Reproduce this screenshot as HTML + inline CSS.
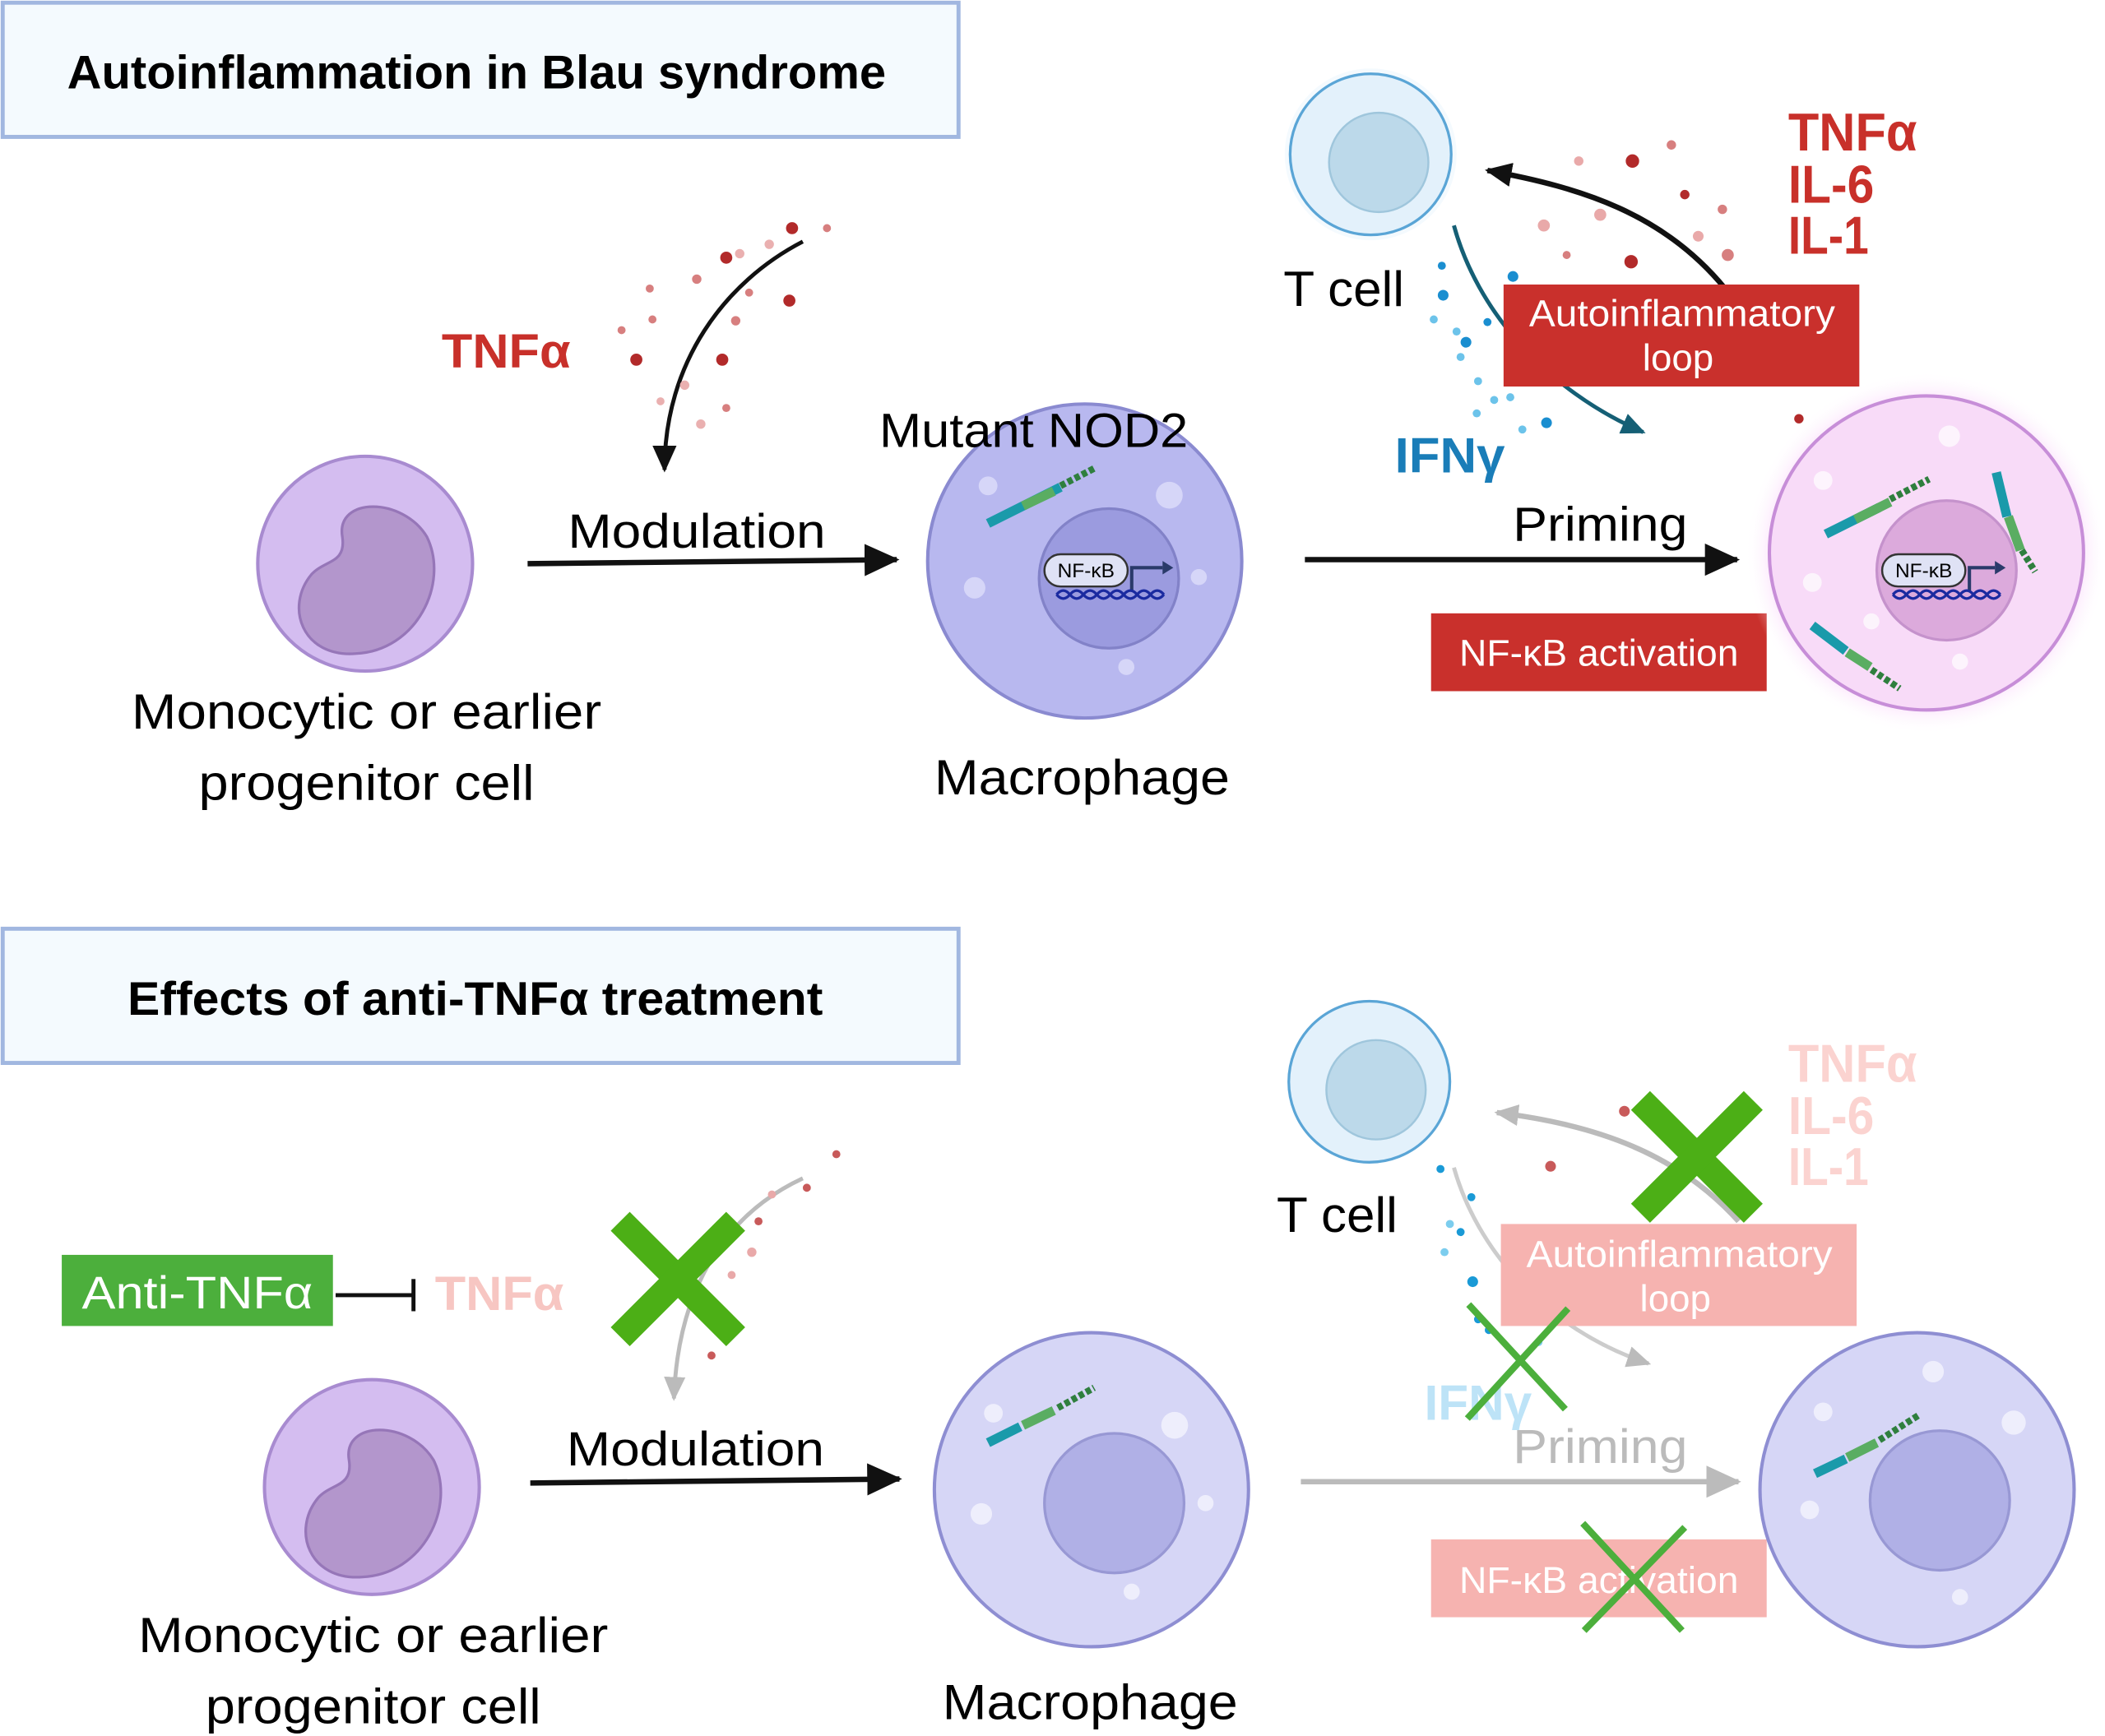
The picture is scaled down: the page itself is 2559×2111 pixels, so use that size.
<!DOCTYPE html>
<html><head><meta charset="utf-8"><style>
html,body{margin:0;padding:0;background:#fff;}
svg{display:block;}
text{font-family:"Liberation Sans",sans-serif;}
</style></head><body>
<svg width="2559" height="2111" viewBox="0 0 1568 1293.5" xmlns="http://www.w3.org/2000/svg">
<defs>
<marker id="ab" markerWidth="26" markerHeight="24" refX="24" refY="12" orient="auto" markerUnits="userSpaceOnUse"><path d="M0,0 L26,12 L0,24z" fill="#111"/></marker>
<marker id="abs" markerWidth="20" markerHeight="18" refX="18" refY="9" orient="auto" markerUnits="userSpaceOnUse"><path d="M0,0 L20,9 L0,18z" fill="#111"/></marker>
<marker id="ag" markerWidth="26" markerHeight="24" refX="24" refY="12" orient="auto" markerUnits="userSpaceOnUse"><path d="M0,0 L26,12 L0,24z" fill="#bbb"/></marker>
<marker id="ags" markerWidth="18" markerHeight="16" refX="16" refY="8" orient="auto" markerUnits="userSpaceOnUse"><path d="M0,0 L18,8 L0,16z" fill="#bbb"/></marker>
<marker id="at" markerWidth="18" markerHeight="16" refX="16" refY="8" orient="auto" markerUnits="userSpaceOnUse"><path d="M0,0 L18,8 L0,16z" fill="#155f75"/></marker>
<radialGradient id="glow"><stop offset="0.8" stop-color="#f8c8f8" stop-opacity="0.8"/><stop offset="1" stop-color="#fff" stop-opacity="0"/></radialGradient>
</defs>

<rect x="2" y="2" width="712" height="100" fill="#f4fafe" stroke="#a1b7e0" stroke-width="3"/>
<text x="355" y="66" font-size="35" font-weight="bold" text-anchor="middle" textLength="610" lengthAdjust="spacingAndGlyphs">Autoinflammation in Blau syndrome</text>
<rect x="2" y="692" width="712" height="100" fill="#f4fafe" stroke="#a1b7e0" stroke-width="3"/>
<text x="354" y="756" font-size="35" font-weight="bold" text-anchor="middle" textLength="518" lengthAdjust="spacingAndGlyphs">Effects of anti-TNFα treatment</text>

<!-- ===== TOP ===== -->
<circle cx="272" cy="420" r="80" fill="#d4bdf0" stroke="#a88bd0" stroke-width="2.5"/>
<path d="M255,400 C250,370 300,370 318,400 C335,435 310,485 265,487 C225,490 212,452 232,428 C242,417 258,420 255,400z" fill="#b396cc" stroke="#9676b8" stroke-width="2"/>
<text x="273" y="543" font-size="37" text-anchor="middle" textLength="350" lengthAdjust="spacingAndGlyphs">Monocytic or earlier</text>
<text x="273" y="596" font-size="37" text-anchor="middle" textLength="250" lengthAdjust="spacingAndGlyphs">progenitor cell</text>
<text x="377" y="274" font-size="36" font-weight="bold" fill="#c8302a" text-anchor="middle" textLength="96" lengthAdjust="spacingAndGlyphs">TNFα</text>
<path d="M598,180 C540,210 495,270 495,350" fill="none" stroke="#111" stroke-width="3" marker-end="url(#abs)"/>
<g fill="#b22a2a"><circle cx="590" cy="170" r="4.5"/><circle cx="541" cy="192" r="4.5"/><circle cx="588" cy="224" r="4.5"/><circle cx="474" cy="268" r="4.5"/><circle cx="538" cy="268" r="4.5"/></g>
<g fill="#d77f7f"><circle cx="616" cy="170" r="3"/><circle cx="484" cy="215" r="3"/><circle cx="519" cy="208" r="3.5"/><circle cx="558" cy="218" r="3"/><circle cx="463" cy="246" r="3"/><circle cx="486" cy="238" r="3"/><circle cx="548" cy="239" r="3.5"/><circle cx="541" cy="304" r="3"/></g>
<g fill="#eab0b0"><circle cx="551" cy="189" r="3.5"/><circle cx="573" cy="182" r="3.5"/><circle cx="492" cy="299" r="3"/><circle cx="522" cy="316" r="3.5"/><circle cx="510" cy="287" r="3.5"/></g>
<line x1="393" y1="420" x2="668" y2="417" stroke="#111" stroke-width="4" marker-end="url(#ab)"/>
<text x="519" y="408" font-size="36" text-anchor="middle" textLength="192" lengthAdjust="spacingAndGlyphs">Modulation</text>
<circle cx="808" cy="418" r="117" fill="#b8b8ef" stroke="#8a8ad0" stroke-width="2.5"/>
<circle cx="826" cy="431" r="52" fill="#9b9bdf" stroke="#8282c8" stroke-width="2"/>
<g fill="#d6d6f8"><circle cx="736" cy="362" r="7"/><circle cx="871" cy="369" r="10"/><circle cx="726" cy="438" r="8"/><circle cx="839" cy="497" r="6"/><circle cx="893" cy="430" r="6"/></g>
<line x1="736" y1="390" x2="790" y2="363" stroke="#1a9aaa" stroke-width="7"/>
<line x1="762" y1="377" x2="785" y2="366" stroke="#5aad62" stroke-width="7"/>
<line x1="790" y1="362" x2="815" y2="349" stroke="#2f7f3e" stroke-width="5" stroke-dasharray="4 2"/>
<rect x="778" y="413" width="62" height="24" rx="12" fill="#dfe2f5" stroke="#333" stroke-width="1.5"/>
<text x="809" y="430" font-size="15" text-anchor="middle">NF-κB</text>
<path d="M843,440 L843,423 L866,423" fill="none" stroke="#2a3a6a" stroke-width="2.5"/>
<path d="M866,418 L874,423 L866,428z" fill="#2a3a6a"/>
<path d="M787,443 q5,-6 10,0 t10,0 t10,0 t10,0 t10,0 t10,0 t10,0 t10,0 M787,443 q5,6 10,0 t10,0 t10,0 t10,0 t10,0 t10,0 t10,0 t10,0" fill="none" stroke="#1a2aa0" stroke-width="2"/>
<text x="770" y="333" font-size="36" text-anchor="middle" textLength="230" lengthAdjust="spacingAndGlyphs">Mutant NOD2</text>
<text x="806" y="592" font-size="37" text-anchor="middle" textLength="220" lengthAdjust="spacingAndGlyphs">Macrophage</text>
<line x1="972" y1="417" x2="1294" y2="417" stroke="#111" stroke-width="4" marker-end="url(#ab)"/>
<text x="1192" y="403" font-size="36" text-anchor="middle" textLength="130" lengthAdjust="spacingAndGlyphs">Priming</text>
<rect x="1066" y="457" width="250" height="58" fill="#c9302c"/>
<text x="1191" y="496" font-size="28" fill="#fff" text-anchor="middle" textLength="208" lengthAdjust="spacingAndGlyphs">NF-κB activation</text>
<circle cx="1021" cy="115" r="64" fill="#f0f8fe" opacity="0.7"/>
<circle cx="1021" cy="115" r="60" fill="#e3f1fb" stroke="#5aa5d6" stroke-width="2"/>
<circle cx="1027" cy="121" r="37" fill="#bcd9ea" stroke="#9fc6dc" stroke-width="1.5"/>
<text x="1001" y="228" font-size="37" text-anchor="middle" textLength="90" lengthAdjust="spacingAndGlyphs">T cell</text>
<path d="M1285,215 C1240,160 1180,140 1108,127" fill="none" stroke="#111" stroke-width="4" marker-end="url(#abs)"/>
<path d="M1083,168 C1100,230 1150,290 1224,322" fill="none" stroke="#155f75" stroke-width="3" marker-end="url(#at)"/>
<g fill="#b22a2a"><circle cx="1216" cy="120" r="5"/><circle cx="1215" cy="195" r="5"/><circle cx="1255" cy="145" r="3.5"/><circle cx="1302" cy="230" r="3.5"/><circle cx="1340" cy="312" r="3.5"/></g>
<g fill="#d77f7f"><circle cx="1245" cy="108" r="3.5"/><circle cx="1283" cy="156" r="3.5"/><circle cx="1287" cy="190" r="4.5"/><circle cx="1202" cy="240" r="3.5"/><circle cx="1167" cy="190" r="3"/></g>
<g fill="#e9a9a9"><circle cx="1176" cy="120" r="3.5"/><circle cx="1192" cy="160" r="4.5"/><circle cx="1150" cy="168" r="4.5"/><circle cx="1265" cy="176" r="4"/></g>
<g fill="#1a8ed0"><circle cx="1074" cy="198" r="3"/><circle cx="1075" cy="220" r="4"/><circle cx="1108" cy="240" r="3"/><circle cx="1092" cy="255" r="4"/><circle cx="1127" cy="206" r="4"/><circle cx="1152" cy="315" r="4"/></g>
<g fill="#6cc3ea"><circle cx="1085" cy="247" r="3"/><circle cx="1088" cy="266" r="3"/><circle cx="1101" cy="284" r="3"/><circle cx="1113" cy="298" r="3"/><circle cx="1100" cy="308" r="3"/><circle cx="1125" cy="296" r="3"/><circle cx="1134" cy="320" r="3"/><circle cx="1068" cy="238" r="3"/></g>
<rect x="1120" y="212" width="265" height="76" fill="#c9302c"/>
<text x="1253" y="243" font-size="28" fill="#fff" text-anchor="middle" textLength="228" lengthAdjust="spacingAndGlyphs">Autoinflammatory</text>
<text x="1250" y="276" font-size="28" fill="#fff" text-anchor="middle">loop</text>
<text x="1080" y="352" font-size="37" font-weight="bold" fill="#1a7db8" text-anchor="middle" textLength="82" lengthAdjust="spacingAndGlyphs">IFNγ</text>
<g font-size="40" font-weight="bold" fill="#c8302a"><text x="1332" y="112" textLength="96" lengthAdjust="spacingAndGlyphs">TNFα</text><text x="1332" y="151" textLength="64" lengthAdjust="spacingAndGlyphs">IL-6</text><text x="1332" y="189" textLength="60" lengthAdjust="spacingAndGlyphs">IL-1</text></g>
<circle cx="1435" cy="412" r="135" fill="url(#glow)"/>
<circle cx="1435" cy="412" r="117" fill="#f8dbf8" stroke="#c78ed8" stroke-width="2.5"/>
<circle cx="1450" cy="425" r="52" fill="#dcaadc" stroke="#c592cc" stroke-width="2"/>
<g fill="#fff" opacity="0.7"><circle cx="1358" cy="358" r="7"/><circle cx="1452" cy="325" r="8"/><circle cx="1350" cy="434" r="7"/><circle cx="1460" cy="493" r="6"/><circle cx="1394" cy="463" r="6"/></g>
<line x1="1360" y1="398" x2="1400" y2="378" stroke="#1a9aaa" stroke-width="7"/>
<line x1="1382" y1="387" x2="1408" y2="374" stroke="#5aad62" stroke-width="7"/>
<line x1="1408" y1="372" x2="1437" y2="357" stroke="#2f7f3e" stroke-width="5" stroke-dasharray="4 2"/>
<line x1="1487" y1="352" x2="1495" y2="385" stroke="#1a9aaa" stroke-width="7"/>
<line x1="1496" y1="385" x2="1505" y2="410" stroke="#5aad62" stroke-width="7"/>
<line x1="1506" y1="410" x2="1516" y2="426" stroke="#2f7f3e" stroke-width="5" stroke-dasharray="4 2"/>
<line x1="1350" y1="466" x2="1375" y2="485" stroke="#1a9aaa" stroke-width="7"/>
<line x1="1376" y1="486" x2="1393" y2="497" stroke="#5aad62" stroke-width="7"/>
<line x1="1394" y1="499" x2="1415" y2="513" stroke="#2f7f3e" stroke-width="5" stroke-dasharray="4 2"/>
<rect x="1402" y="413" width="62" height="24" rx="12" fill="#dfe2f5" stroke="#333" stroke-width="1.5"/>
<text x="1433" y="430" font-size="15" text-anchor="middle">NF-κB</text>
<path d="M1467,440 L1467,423 L1486,423" fill="none" stroke="#2a3a6a" stroke-width="2.5"/>
<path d="M1486,418 L1494,423 L1486,428z" fill="#2a3a6a"/>
<path d="M1410,443 q5,-6 10,0 t10,0 t10,0 t10,0 t10,0 t10,0 t10,0 t10,0 M1410,443 q5,6 10,0 t10,0 t10,0 t10,0 t10,0 t10,0 t10,0 t10,0" fill="none" stroke="#1a2aa0" stroke-width="2"/>

<!-- ===== BOTTOM ===== -->
<rect x="46" y="935" width="202" height="53" fill="#4caf3c"/>
<text x="147" y="975" font-size="34" fill="#fff" text-anchor="middle" textLength="172" lengthAdjust="spacingAndGlyphs">Anti-TNFα</text>
<line x1="250" y1="965" x2="308" y2="965" stroke="#111" stroke-width="3"/>
<line x1="308" y1="953" x2="308" y2="977" stroke="#111" stroke-width="3"/>
<text x="372" y="976" font-size="36" font-weight="bold" fill="#f7c6c2" text-anchor="middle" textLength="96" lengthAdjust="spacingAndGlyphs">TNFα</text>
<path d="M598,878 C540,905 505,960 502,1042" fill="none" stroke="#bbb" stroke-width="3" marker-end="url(#ags)"/>
<g fill="#c85a5a"><circle cx="623" cy="860" r="3"/><circle cx="601" cy="885" r="3"/><circle cx="565" cy="910" r="3"/><circle cx="530" cy="1010" r="3"/></g>
<g fill="#e9a9a9"><circle cx="575" cy="890" r="3"/><circle cx="560" cy="933" r="3.5"/><circle cx="545" cy="950" r="3"/></g>
<g stroke="#4caf16" stroke-width="20"><line x1="462" y1="910" x2="548" y2="996"/><line x1="548" y1="910" x2="462" y2="996"/></g>
<circle cx="277" cy="1108" r="80" fill="#d4bdf0" stroke="#a88bd0" stroke-width="2.5"/>
<path d="M260,1088 C255,1058 305,1058 323,1088 C340,1123 315,1173 270,1175 C230,1178 217,1140 237,1116 C247,1105 263,1108 260,1088z" fill="#b396cc" stroke="#9676b8" stroke-width="2"/>
<text x="278" y="1231" font-size="37" text-anchor="middle" textLength="350" lengthAdjust="spacingAndGlyphs">Monocytic or earlier</text>
<text x="278" y="1284" font-size="37" text-anchor="middle" textLength="250" lengthAdjust="spacingAndGlyphs">progenitor cell</text>
<line x1="395" y1="1105" x2="670" y2="1102" stroke="#111" stroke-width="4" marker-end="url(#ab)"/>
<text x="518" y="1092" font-size="36" text-anchor="middle" textLength="192" lengthAdjust="spacingAndGlyphs">Modulation</text>
<circle cx="813" cy="1110" r="117" fill="#d6d6f6" stroke="#8e8ed2" stroke-width="2.5"/>
<circle cx="830" cy="1120" r="52" fill="#b0b0e6" stroke="#9898d4" stroke-width="2"/>
<g fill="#eeeefc"><circle cx="740" cy="1053" r="7"/><circle cx="875" cy="1062" r="10"/><circle cx="731" cy="1128" r="8"/><circle cx="843" cy="1186" r="6"/><circle cx="898" cy="1120" r="6"/></g>
<line x1="736" y1="1075" x2="760" y2="1063" stroke="#1a9aaa" stroke-width="7"/>
<line x1="762" y1="1062" x2="785" y2="1051" stroke="#5aad62" stroke-width="7"/>
<line x1="788" y1="1049" x2="815" y2="1034" stroke="#2f7f3e" stroke-width="5" stroke-dasharray="4 2"/>
<text x="812" y="1281" font-size="37" text-anchor="middle" textLength="220" lengthAdjust="spacingAndGlyphs">Macrophage</text>
<circle cx="1020" cy="806" r="60" fill="#e3f1fb" stroke="#5aa5d6" stroke-width="2"/>
<circle cx="1025" cy="812" r="37" fill="#bcd9ea" stroke="#9fc6dc" stroke-width="1.5"/>
<text x="996" y="918" font-size="37" text-anchor="middle" textLength="90" lengthAdjust="spacingAndGlyphs">T cell</text>
<g font-size="40" font-weight="bold" fill="#fbd3d0"><text x="1332" y="806" textLength="96" lengthAdjust="spacingAndGlyphs">TNFα</text><text x="1332" y="845" textLength="64" lengthAdjust="spacingAndGlyphs">IL-6</text><text x="1332" y="883" textLength="60" lengthAdjust="spacingAndGlyphs">IL-1</text></g>
<path d="M1295,910 C1250,860 1190,838 1115,829" fill="none" stroke="#bbb" stroke-width="4" marker-end="url(#ags)"/>
<path d="M1083,870 C1100,930 1150,990 1228,1016" fill="none" stroke="#ccc" stroke-width="3" marker-end="url(#ags)"/>
<g fill="#c85a5a"><circle cx="1210" cy="828" r="4"/><circle cx="1155" cy="869" r="4"/><circle cx="1253" cy="845" r="3.5"/></g>
<g fill="#1a9ad6"><circle cx="1073" cy="871" r="3"/><circle cx="1096" cy="892" r="3"/><circle cx="1088" cy="918" r="3"/><circle cx="1097" cy="955" r="4"/><circle cx="1101" cy="983" r="3"/><circle cx="1109" cy="991" r="3"/></g>
<g fill="#7ccdee"><circle cx="1080" cy="912" r="3"/><circle cx="1076" cy="933" r="3"/><circle cx="1146" cy="1000" r="3"/></g>
<rect x="1118" y="912" width="265" height="76" fill="#f6b3b0"/>
<text x="1251" y="944" font-size="28" fill="#fff" text-anchor="middle" textLength="228" lengthAdjust="spacingAndGlyphs">Autoinflammatory</text>
<text x="1248" y="977" font-size="28" fill="#fff" text-anchor="middle">loop</text>
<g stroke="#4caf16" stroke-width="20"><line x1="1222" y1="820" x2="1306" y2="904"/><line x1="1306" y1="820" x2="1222" y2="904"/></g>
<text x="1101" y="1058" font-size="37" font-weight="bold" fill="#bde3f7" text-anchor="middle" textLength="80" lengthAdjust="spacingAndGlyphs">IFNγ</text>
<g stroke="#4caf3c" stroke-width="5"><line x1="1094" y1="972" x2="1166" y2="1050"/><line x1="1168" y1="975" x2="1093" y2="1057"/></g>
<line x1="969" y1="1104" x2="1295" y2="1104" stroke="#bbb" stroke-width="4" marker-end="url(#ag)"/>
<text x="1192" y="1090" font-size="36" fill="#bbb" text-anchor="middle" textLength="130" lengthAdjust="spacingAndGlyphs">Priming</text>
<rect x="1066" y="1147" width="250" height="58" fill="#f6b3b0"/>
<text x="1191" y="1187" font-size="28" fill="#fff" text-anchor="middle" textLength="208" lengthAdjust="spacingAndGlyphs">NF-κB activation</text>
<g stroke="#4caf3c" stroke-width="5"><line x1="1179" y1="1135" x2="1253" y2="1215"/><line x1="1255" y1="1138" x2="1180" y2="1215"/></g>
<circle cx="1428" cy="1110" r="117" fill="#d6d6f6" stroke="#8e8ed2" stroke-width="2.5"/>
<circle cx="1445" cy="1118" r="52" fill="#b0b0e6" stroke="#9898d4" stroke-width="2"/>
<g fill="#eeeefc"><circle cx="1358" cy="1052" r="7"/><circle cx="1440" cy="1022" r="8"/><circle cx="1348" cy="1125" r="7"/><circle cx="1460" cy="1190" r="6"/><circle cx="1500" cy="1060" r="9"/></g>
<line x1="1352" y1="1098" x2="1375" y2="1087" stroke="#1a9aaa" stroke-width="7"/>
<line x1="1376" y1="1086" x2="1398" y2="1075" stroke="#5aad62" stroke-width="7"/>
<line x1="1400" y1="1073" x2="1430" y2="1054" stroke="#2f7f3e" stroke-width="5" stroke-dasharray="4 2"/>
</svg>
</body></html>
